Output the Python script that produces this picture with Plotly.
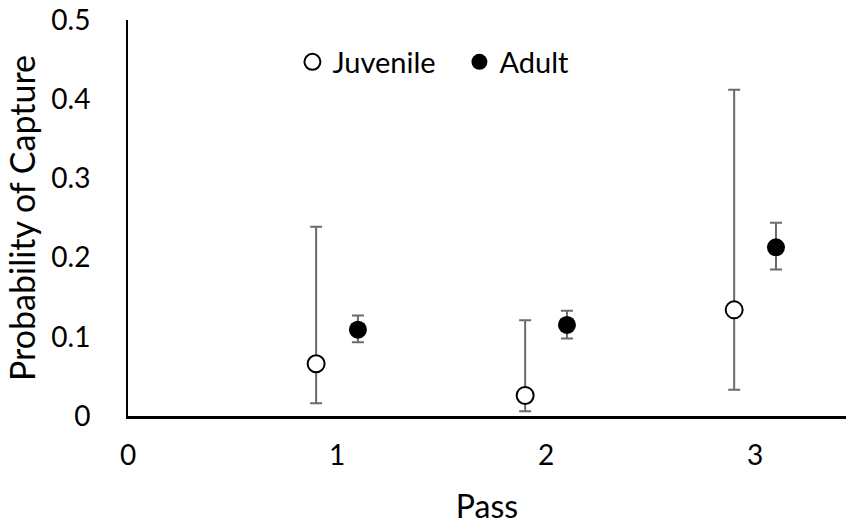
import plotly.graph_objects as go

# Capture probability by electrofishing pass, with 95% confidence limits
passes = [1, 2, 3]
offset = 0.1  # horizontal dodge between the two life stages

juv_p = [0.066, 0.026, 0.134]
juv_upper = [0.239, 0.121, 0.412]
juv_lower = [0.016, 0.006, 0.033]

adult_p = [0.109, 0.115, 0.213]
adult_upper = [0.127, 0.133, 0.244]
adult_lower = [0.093, 0.098, 0.185]

y_ticks = [0, 0.1, 0.2, 0.3, 0.4, 0.5]
x_ticks = [0, 1, 2, 3]

FONT = "Lato"
ERR_COLOR = "#6b6b6b"


def err(p, up, lo):
    return dict(
        type="data",
        symmetric=False,
        array=[u - v for u, v in zip(up, p)],
        arrayminus=[v - l for v, l in zip(p, lo)],
        color=ERR_COLOR,
        thickness=2,
        width=6,
    )


fig = go.Figure()
fig.add_trace(go.Scatter(
    x=[p - offset for p in passes], y=juv_p, mode="markers", name="Juvenile",
    marker=dict(symbol="circle", size=17, color="white",
                line=dict(color="black", width=2)),
    error_y=err(juv_p, juv_upper, juv_lower),
))
fig.add_trace(go.Scatter(
    x=[p + offset for p in passes], y=adult_p, mode="markers", name="Adult",
    marker=dict(symbol="circle", size=18, color="black",
                line=dict(color="black", width=0)),
    error_y=err(adult_p, adult_upper, adult_lower),
))

fig.update_layout(
    width=846, height=525,
    margin=dict(l=128, r=0, t=20, b=109),
    paper_bgcolor="white", plot_bgcolor="white",
    font=dict(family=FONT, color="black", size=28),
    showlegend=True,
    legend=dict(
        orientation="h", x=0.229, y=0.894, xanchor="left", yanchor="middle",
        font=dict(family=FONT, size=29, color="black"),
        bgcolor="rgba(0,0,0,0)", itemwidth=30, tracegroupgap=0,
        entrywidth=122, entrywidthmode="pixels",
    ),
    xaxis=dict(
        range=[0, 3.435], tickvals=x_ticks, ticktext=[str(v) for v in x_ticks],
        showgrid=False, zeroline=False, showline=True, linecolor="black",
        linewidth=2.5, ticks="", ticklabelstandoff=13,
        tickfont=dict(family=FONT, size=28, color="black"),
        title=dict(text="Pass", standoff=29,
                   font=dict(family=FONT, size=32, color="black")),
    ),
    yaxis=dict(
        range=[0, 0.5], tickvals=y_ticks,
        ticktext=["0" if v == 0 else f"{v:.1f}" for v in y_ticks],
        showgrid=False, zeroline=False, showline=True, linecolor="black",
        linewidth=2, ticks="", ticklabelstandoff=30,
        tickfont=dict(family=FONT, size=28, color="black"),
        title=dict(text="Probability of Capture", standoff=5,
                   font=dict(family=FONT, size=34, color="black")),
    ),
)

fig.write_html("out.html")
